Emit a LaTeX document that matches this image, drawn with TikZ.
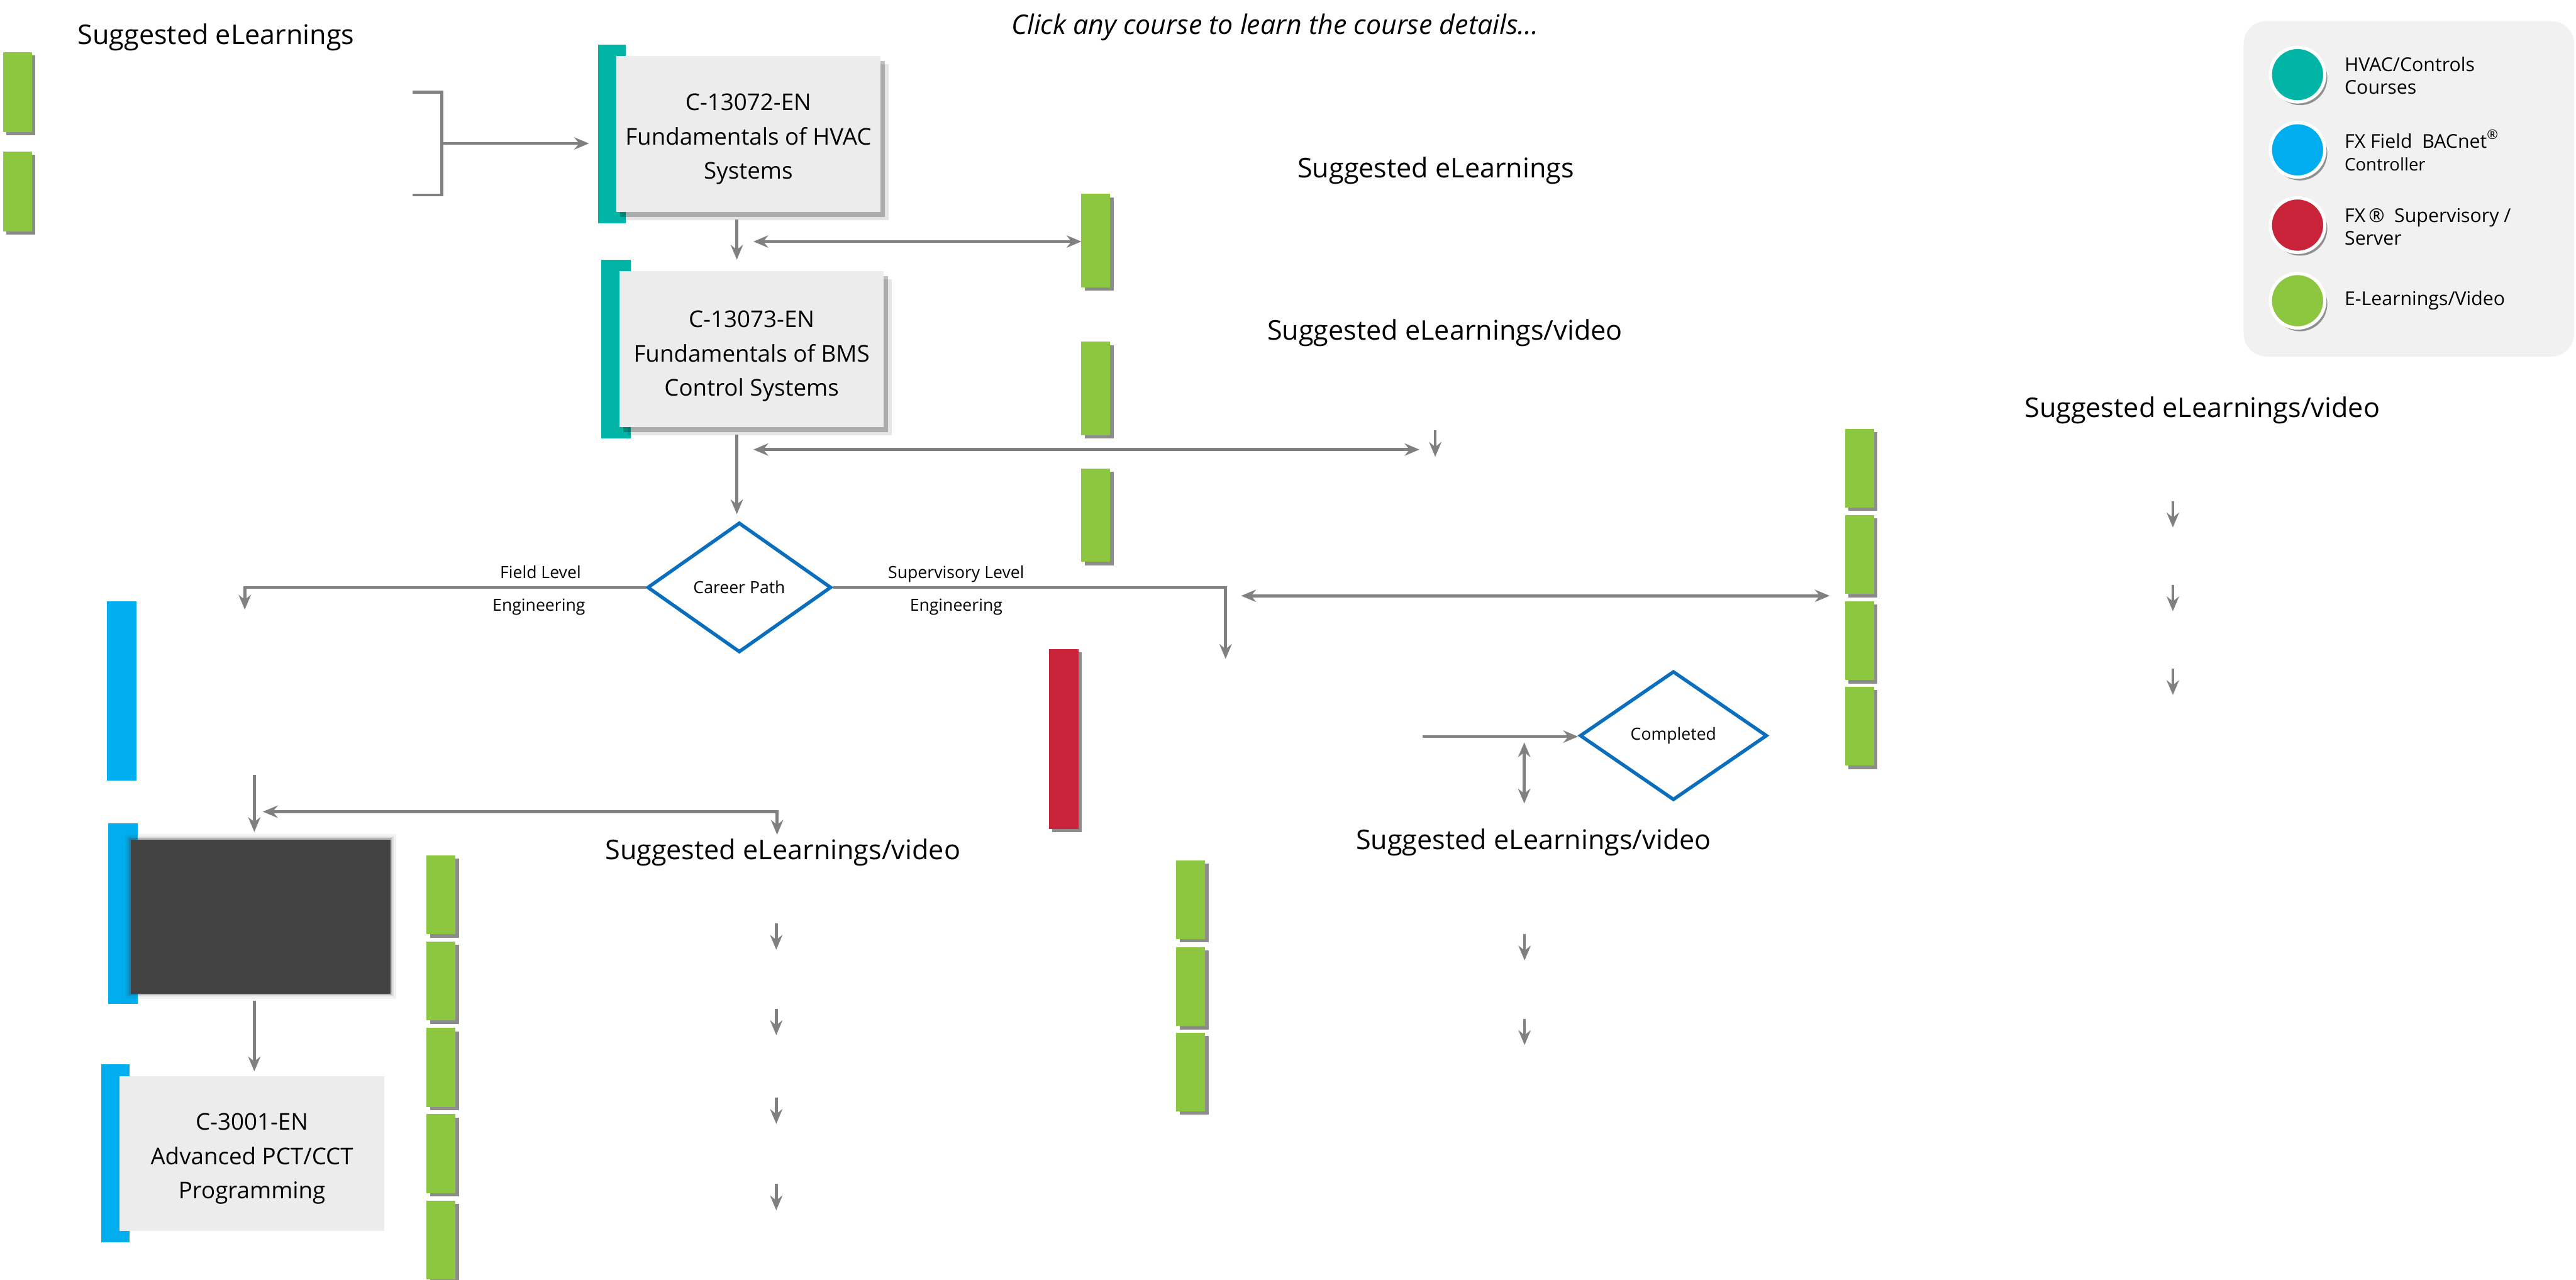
\documentclass[tikz,border=0pt]{standalone}
\usepackage{fontspec}
\setmainfont{Open Sans}
\usetikzlibrary{arrows.meta,shapes.geometric,shadows}
\definecolor{hvac}{HTML}{00B5A6}
\definecolor{fxblue}{HTML}{00AEEF}
\definecolor{fxred}{HTML}{C9233A}
\definecolor{elgreen}{HTML}{8DC63F}
\definecolor{boxgrey}{HTML}{ECECEC}
\definecolor{lineg}{HTML}{808080}
\definecolor{diablue}{HTML}{0A6EBE}
\definecolor{darkbox}{HTML}{424242}
\definecolor{legbg}{HTML}{F1F1F1}
\newcommand\fBig{\fontsize{9.4}{11}\selectfont}
\newcommand\fTitle{\fontsize{9.35}{11}\selectfont\itshape}
\newcommand\fCrs{\fontsize{8}{11.95}\selectfont}
\newcommand\fSml{\fontsize{5.8}{7}\selectfont}
\newcommand\fLeg{\fontsize{6.6}{8}\selectfont}
\newcommand\crsstrut{\rule{0pt}{9.4pt}}
\newcommand\shortarrow[3]{\coordinate (#1a) at (#2,#3); \coordinate (#1b) at (#2,#3+16); \draw[arr] (#1a) -- (#1b);}
\tikzset{
  tip/.tip={Stealth[length=1.8mm,width=1.5mm,inset=0.6mm]},
  arr/.style={draw=lineg, line width=1pt, -tip},
  darr/.style={draw=lineg, line width=1pt, tip-tip},
  ebar/.style={rectangle, inner sep=0pt, outer sep=0pt, fill=elgreen, minimum width=0.352cm, minimum height=0.96cm,
    drop shadow={shadow xshift=0.04cm, shadow yshift=-0.04cm, fill=black, opacity=0.45}},
  cbar/.style={rectangle, inner sep=0pt, outer sep=0pt, minimum width=0.35cm, minimum height=2.18cm},
  course/.style={rectangle, inner sep=0pt, outer sep=0pt, fill=boxgrey, minimum width=3.22cm, minimum height=1.9cm, align=center, font=\fCrs},
  cshadow/.style={drop shadow={shadow xshift=0.1cm, shadow yshift=-0.1cm, fill=black, opacity=0.10},
                  drop shadow={shadow xshift=0.05cm, shadow yshift=-0.06cm, fill=black, opacity=0.25}},
  dia/.style={diamond, draw=diablue, line width=1.2pt, inner sep=0pt, font=\fSml, fill=white},
  lbl/.style={font=\fBig, inner sep=0pt, anchor=base},
  sml/.style={font=\fSml, inner sep=0pt, anchor=base},
  legc/.style={circle, draw=white, line width=0.04cm, minimum size=0.664cm, inner sep=0pt,
    drop shadow={shadow xshift=0.03cm, shadow yshift=-0.04cm, fill=black, opacity=0.4}},
  legt/.style={anchor=west, align=left, font=\fLeg, inner sep=0pt},
}
\begin{document}
\begin{tikzpicture}[x=0.02cm, y=-0.02cm]
\useasboundingbox (0,0) rectangle (1568,779);

% title and labels
\node[font=\fTitle, inner sep=0pt, anchor=base] (title) at (776,21) {Click any course to learn the course details...};
\node[lbl] (s1) at (131.5,27) {Suggested eLearnings};
\node[lbl] (s2) at (874,108) {Suggested eLearnings};
\node[lbl] (s3) at (879.5,207) {Suggested eLearnings/video};
\node[lbl] (s4) at (1340.5,254) {Suggested eLearnings/video};
\node[lbl] (s5) at (476.5,523) {Suggested eLearnings/video};
\node[lbl] (s6) at (933.5,517) {Suggested eLearnings/video};

% left eLearnings + bracket
\node[ebar, minimum height=0.97cm] (ga1) at (10.75,56) {};
\node[ebar, minimum height=0.97cm] (ga2) at (10.75,116.5) {};
\draw[lineg, line width=1pt] (251,56) -- (269,56) -- (269,118.6) -- (251,118.6);
\coordinate (bk) at (269,87.3);

% course 1
\node[cbar, fill=hvac, minimum width=0.34cm] (t1) at (372.5,81.5) {};
\node[course, cshadow] (c1) at (455.5,81.5) {\crsstrut C-13072-EN\\Fundamentals of HVAC\\Systems};
\draw[arr, shorten >=0.11cm] (bk) -- (bk -| t1.west);

% course 2
\node[cbar, fill=hvac, minimum width=0.36cm] (t2) at (375,212.5) {};
\node[course, cshadow] (c2) at (457.5,212.5) {\rule{0pt}{10.6pt}C-13073-EN\\Fundamentals of BMS\\Control Systems};
\coordinate (v1) at ([xshift=-0.14cm,yshift=-0.09cm]c1.south);
\draw[arr] (v1) -- (v1 |- t2.north);

% green column 2
\node[ebar, minimum height=1.14cm] (gb1) at (667,146.5) {};
\node[ebar, minimum height=1.14cm] (gb2) at (667,236.5) {};
\node[ebar, minimum height=1.14cm] (gb3) at (667,313.5) {};
\coordinate (d1) at (458.6,147);
\draw[darr] (d1) -- (d1 -| gb1.west);

\coordinate (d2) at (458.6,273.6);
\coordinate (d2e) at (864,273.6);
\draw[darr] (d2) -- (d2e);
\shortarrow{sa0}{873.6}{262}

% career path
\node[dia, minimum width=2.24cm, minimum height=1.58cm] (cp) at (450,357.5) {Career Path};
\coordinate (v2) at ([xshift=-0.18cm,yshift=-0.09cm]c2.south);
\draw[arr, shorten >=0.08cm] (v2) -- (v2 |- cp.north);

\coordinate (fl) at (149,357.5);
\coordinate (fle) at (149,371);
\draw[arr] (cp.west) -- (fl) -- (fle);
\node[sml] (lf1) at (329,352) {Field Level};
\node[sml] (lf2) at (328,372) {Engineering};

\coordinate (sl) at (746,357.5);
\coordinate (sle) at (746,401);
\draw[arr] (cp.east) -- (sl) -- (sle);
\node[sml] (ls1) at (582,352) {Supervisory Level};
\node[sml] (ls2) at (582,372) {Engineering};

% right green column
\node[ebar] (gc1) at (1132,285) {};
\node[ebar] (gc2) at (1132,337.5) {};
\node[ebar] (gc3) at (1132,390) {};
\node[ebar] (gc4) at (1132,442) {};
\coordinate (d3) at (755.5,362.6);
\draw[darr, shorten >=0.19cm] (d3) -- (d3 -| gc2.west);
\shortarrow{sb1}{1322.6}{305}
\shortarrow{sb2}{1322.6}{356}
\shortarrow{sb3}{1322.6}{407}

% field branch
\node[cbar, fill=fxblue, minimum width=0.36cm] (b1) at (74,420.5) {};
\node[cbar, fill=fxblue, minimum width=0.36cm, minimum height=2.2cm] (b2) at (75,556) {};
\fill[darkbox, opacity=0.07] (76,507.6) rectangle (241,608);
\fill[darkbox, opacity=0.12] (77.5,509) rectangle (239.5,606.5);
\fill[darkbox, opacity=0.25] (78.5,510) rectangle (238.5,605.5);
\node[rectangle, fill=darkbox, inner sep=0pt, minimum width=3.16cm, minimum height=1.87cm] (dk) at (158.7,557.9) {};
\coordinate (a1) at (154.8,471.6);
\draw[arr, shorten >=0.09cm] (a1) -- (a1 |- dk.north);
\coordinate (d4a) at (160,494);
\coordinate (d4b) at (473,494);
\coordinate (d4c) at (473,508);
\draw[darr] (d4a) -- (d4b) -- (d4c);

\node[cbar, fill=fxblue, minimum width=0.35cm, minimum height=2.17cm] (b3) at (70.25,701.8) {};
\node[course, minimum width=3.23cm, minimum height=1.88cm] (c3) at (153.35,702) {\crsstrut C-3001-EN\\Advanced PCT/CCT\\Programming};
\coordinate (a2) at (154.8,609);
\draw[arr, shorten >=0.06cm] (a2) -- (a2 |- c3.north);

\node[ebar] (gd1) at (268.5,544.6) {};
\node[ebar] (gd2) at (268.5,597.1) {};
\node[ebar] (gd3) at (268.5,649.6) {};
\node[ebar] (gd4) at (268.5,702.1) {};
\node[ebar] (gd5) at (268.5,754.6) {};
\shortarrow{sc1}{472.5}{562}
\shortarrow{sc2}{472.5}{614}
\shortarrow{sc3}{472.5}{668}
\shortarrow{sc4}{472.5}{720.6}

% supervisory branch
\node[cbar, fill=fxred, minimum width=0.36cm, minimum height=2.19cm,
  drop shadow={shadow xshift=0.04cm, shadow yshift=-0.04cm, fill=black, opacity=0.45}] (r1) at (647.5,449.75) {};
\node[ebar] (ge1) at (724.8,547.5) {};
\node[ebar] (ge2) at (724.8,600.5) {};
\node[ebar] (ge3) at (724.8,652.4) {};

\node[dia, minimum width=2.28cm, minimum height=1.57cm] (cmp) at (1018.6,447.7) {Completed};
\coordinate (ci) at (866,448.3);
\draw[arr] (ci) -- (ci -| cmp.west);
\coordinate (dv1) at (927.8,451.8);
\coordinate (dv2) at (927.8,489);
\draw[darr] (dv1) -- (dv2);
\shortarrow{sd1}{928}{568.5}
\shortarrow{sd2}{928}{620}

% legend
\node[rectangle, rounded corners=0.28cm, fill=legbg, inner sep=0pt, minimum width=4.026cm, minimum height=4.084cm] (leg) at (1466.25,114.9) {};
\node[legc, fill=hvac] (lc1) at (1398.5,45.4) {};
\node[legc, fill=fxblue] (lc2) at (1398.5,91.2) {};
\node[legc, fill=fxred] (lc3) at (1398.5,137) {};
\node[legc, fill=elgreen] (lc4) at (1398.5,183) {};
\node[legt] (lt1) at (1426.8,46) {HVAC/Controls\\Courses};
\node[legt] (lt2) at (1426.8,91.5) {FX Field\ \ BACnet\textsuperscript{®}\\{\fontsize{6}{8}\selectfont Controller}};
\node[legt] (lt3) at (1426.8,138) {FX\,®\ \ Supervisory /\\Server};
\node[legt] (lt4) at (1426.8,183) {E-Learnings/Video};
\end{tikzpicture}
\end{document}
